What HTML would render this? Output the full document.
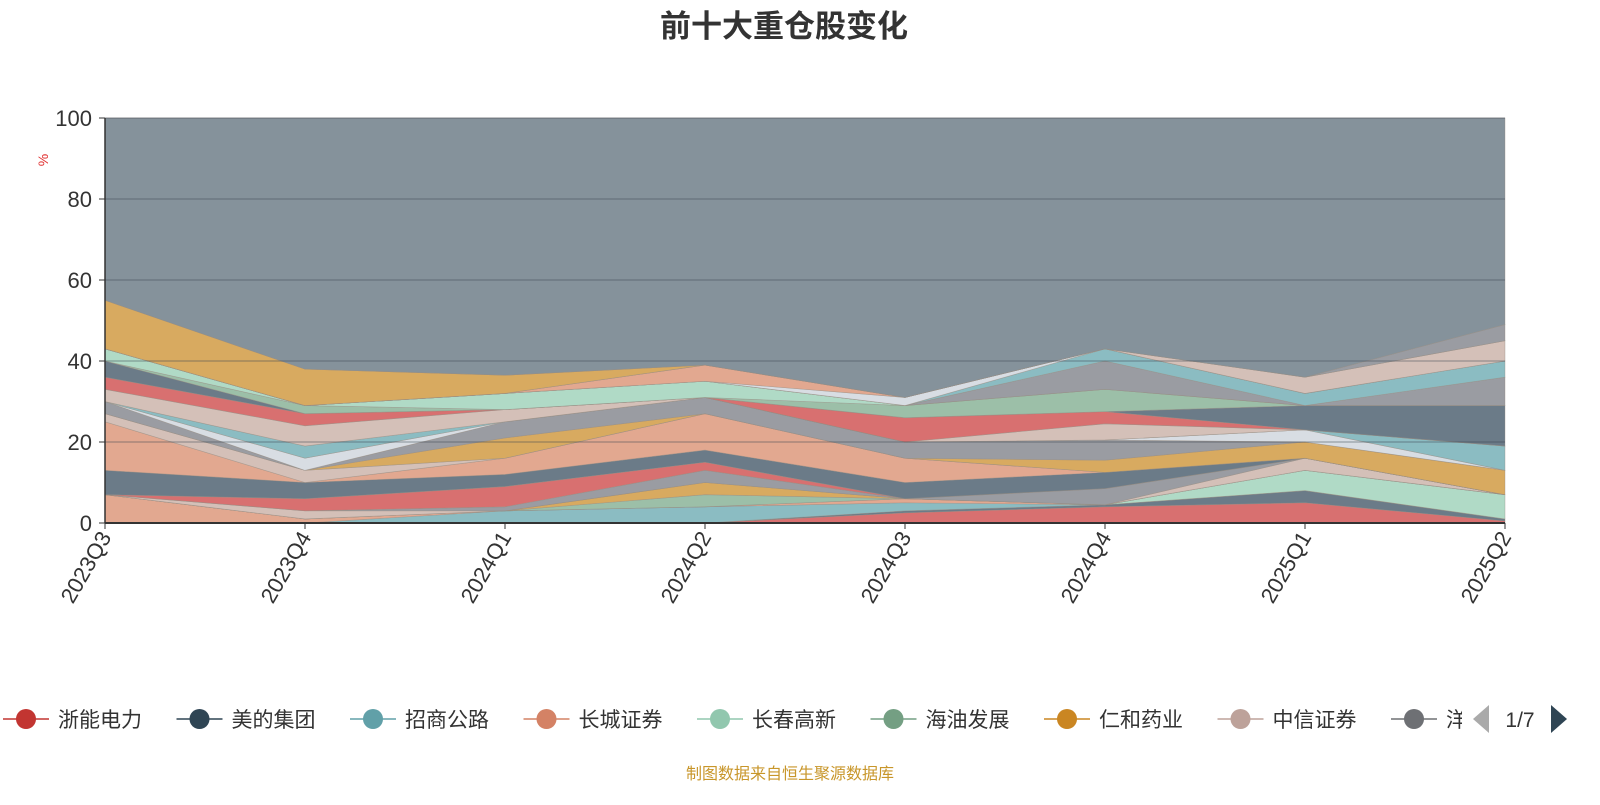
<!DOCTYPE html>
<html><head><meta charset="utf-8"><style>
body{margin:0;background:#fff;width:1600px;height:800px;overflow:hidden;font-family:"Liberation Sans","Noto Sans CJK SC",sans-serif}
</style></head><body>
<svg id="c" width="1600" height="800" xmlns="http://www.w3.org/2000/svg">
<text x="784" y="37" text-anchor="middle" font-size="31" font-weight="bold" fill="#333" font-family="Liberation Sans,Noto Sans CJK SC,sans-serif">前十大重仓股变化</text>
<text x="0" y="0" transform="translate(48,160) rotate(-90)" text-anchor="middle" font-size="14" fill="#e03030">%</text>
<g id="areas"></g><g id="grid"></g><g id="axes"></g><g id="legend"></g>
<text x="790" y="779" text-anchor="middle" font-size="16" fill="#c8962a" font-family="Liberation Sans,Noto Sans CJK SC,sans-serif">制图数据来自恒生聚源数据库</text>
</svg>
<script>
const categories=["2023Q3","2023Q4","2024Q1","2024Q2","2024Q3","2024Q4","2025Q1","2025Q2"];
const yTicks=[0,20,40,60,80,100];
const s1=[0,0,0,0,2.5,4,5,0.5];
const s2=[0,0,0,0,0.5,0.5,3,0.5];
const s3=[0,0,3,4,2,0,0,0];
const s4=[7,1,0,0,1,0,0,0];
const s5=[0,0,0,0,0,0,5,6];
const s6=[0,0,0,3,0,0,0,0];
const s7=[0,0,0,3,0,0,0,0];
const s8=[0,2,0,0,0,0,3,0];
const s9=[0,0,1,3,0,4,0,0];
const s10=[0,3,5,2,0,0,0,0];
const s11=[6,4,3,3,4,4,0,0];
const s12=[12,0,4,9,6,0,0,0];
const s13=[2,3,0,0,0,0,0,0];
const s14=[0,0,5,0,0,3,4,6];
const s15=[3,0,4,4,4,5,0,0];
const s16=[0,3,0,0,0,0,3,0];
const s17=[0,3,0,0,0,0,0,6];
const s18=[3,5,3,0,0,4,0,0];
const s19=[3,3,0,0,6,3,0,0];
const s20=[4,0,0,0,0,0,6,10];
const s21=[0,2,0,0,3,5.5,0,0];
const s22=[3,0,4,4,0,0,0,0];
const s23=[0,0,0,0,0,7,0,7];
const s24=[0,0,0,0,0,3,3,4];
const s25=[0,0,0,0,2,0,0,0];
const s26=[0,0,0,4,0,0,0,0];
const s27=[0,0,0,0,0,0,4,5];
const s28=[12,9,4.5,0,0,0,0,0];
const s29=[0,0,0,0,0,0,0,4];
const seriesList=[s1,s2,s3,s4,s5,s6,s7,s8,s9,s10,s11,s12,s13,s14,s15,s16,s17,s18,s19,s20,s21,s22,s23,s24,s25,s26,s27,s28,s29];
const colorIdx=[0,1,2,3,4,5,6,7,8,0,1,3,7,6,8,9,2,7,0,1,5,4,8,2,9,3,7,6,8];
const palette=["#d87070","#6b7b88","#8bbcc2","#e2a890","#b0dac6","#9cbfa8","#d8aa60","#d4c0b8","#9a9ca2","#d8dde3"];
const legendNames=["浙能电力","美的集团","招商公路","长城证券","长春高新","海油发展","仁和药业","中信证券","洋"];
const legendColors=["#c23531","#2f4554","#61a0a8","#d48265","#91c7ae","#749f83","#ca8622","#bda29a","#6e7074"];
const NS="http://www.w3.org/2000/svg";
const X0=105,X1=1505,Y0=523,Y1=118;
const xs=i=>X0+(X1-X0)*i/(categories.length-1);
const ys=v=>Y0-(Y0-Y1)*v/100;
function mk(t,a,p){const e=document.createElementNS(NS,t);for(const k in a)e.setAttribute(k,a[k]);p.appendChild(e);return e;}
const areas=document.getElementById('areas');
let base=categories.map(()=>0);
const other=categories.map((_,i)=>100-seriesList.reduce((s,a)=>s+a[i],0));
const all=seriesList.concat([other]);
all.forEach((arr,k)=>{
  const top=base.map((b,i)=>b+arr[i]);
  let d="M"+top.map((v,i)=>xs(i)+","+ys(v)).join(" L");
  for(let i=categories.length-1;i>=0;i--)d+=" L"+xs(i)+","+ys(base[i]);
  const col=k<seriesList.length?palette[colorIdx[k]]:"#85929b";
  const p=mk('path',{d:d+"Z",fill:col,stroke:"rgba(150,140,130,0.6)","stroke-width":0.6},areas);
  
  
  base=top;
});
const grid=document.getElementById('grid'),axes=document.getElementById('axes');
yTicks.forEach(t=>{
  if(t>0){const l=mk('line',{x1:X0,x2:X1,y1:ys(t),y2:ys(t),stroke:"rgba(60,70,80,0.35)","stroke-width":1.5},grid);
  
  }
  const tk=mk('line',{x1:X0-6,x2:X0,y1:ys(t),y2:ys(t),stroke:"#333"},axes);
  
  
  const tx=mk('text',{x:X0-13,y:ys(t)+8,"text-anchor":"end","font-size":22,fill:"#333"},axes);
  tx.textContent=t;
  
  
});
const ya=mk('line',{x1:X0,x2:X0,y1:Y1,y2:Y0,stroke:"#333","stroke-width":1.5},axes);


const xa=mk('line',{x1:X0,x2:X1,y1:Y0,y2:Y0,stroke:"#333","stroke-width":2},axes);


categories.forEach((c,i)=>{
  const tk=mk('line',{x1:xs(i),x2:xs(i),y1:Y0,y2:Y0+6,stroke:"#333"},axes);
  
  
  const tx=mk('text',{x:0,y:0,transform:`translate(${xs(i)+7},${Y0+14}) rotate(-60)`,"text-anchor":"end","font-size":22,fill:"#333"},axes);
  tx.textContent=c;
  
  
});
const lg=document.getElementById('legend');
legendNames.forEach((n,i)=>{
  const x=3+i*173.5;
  const g=mk('g',{},lg);
  
  
  mk('line',{x1:x,x2:x+46,y1:719,y2:719,stroke:legendColors[i],"stroke-width":1.5},g);
  mk('circle',{cx:x+23,cy:719,r:10,fill:legendColors[i]},g);
  const t=mk('text',{x:x+55,y:727,"font-size":21,fill:"#333","font-family":"Liberation Sans,Noto Sans CJK SC,sans-serif"},g);
  t.textContent=n;
});
mk('rect',{x:1462,y:695,width:138,height:50,fill:"#fff"},lg);
const pl=mk('polygon',{points:"1489,705 1489,733 1473,719",fill:"#aaa"},lg);


const pt=mk('text',{x:1520,y:727,"text-anchor":"middle","font-size":21,fill:"#333"},lg);
pt.textContent="1/7";


const pn=mk('polygon',{points:"1551,705 1551,733 1567,719",fill:"#2f4554"},lg);


</script>
</body></html>
